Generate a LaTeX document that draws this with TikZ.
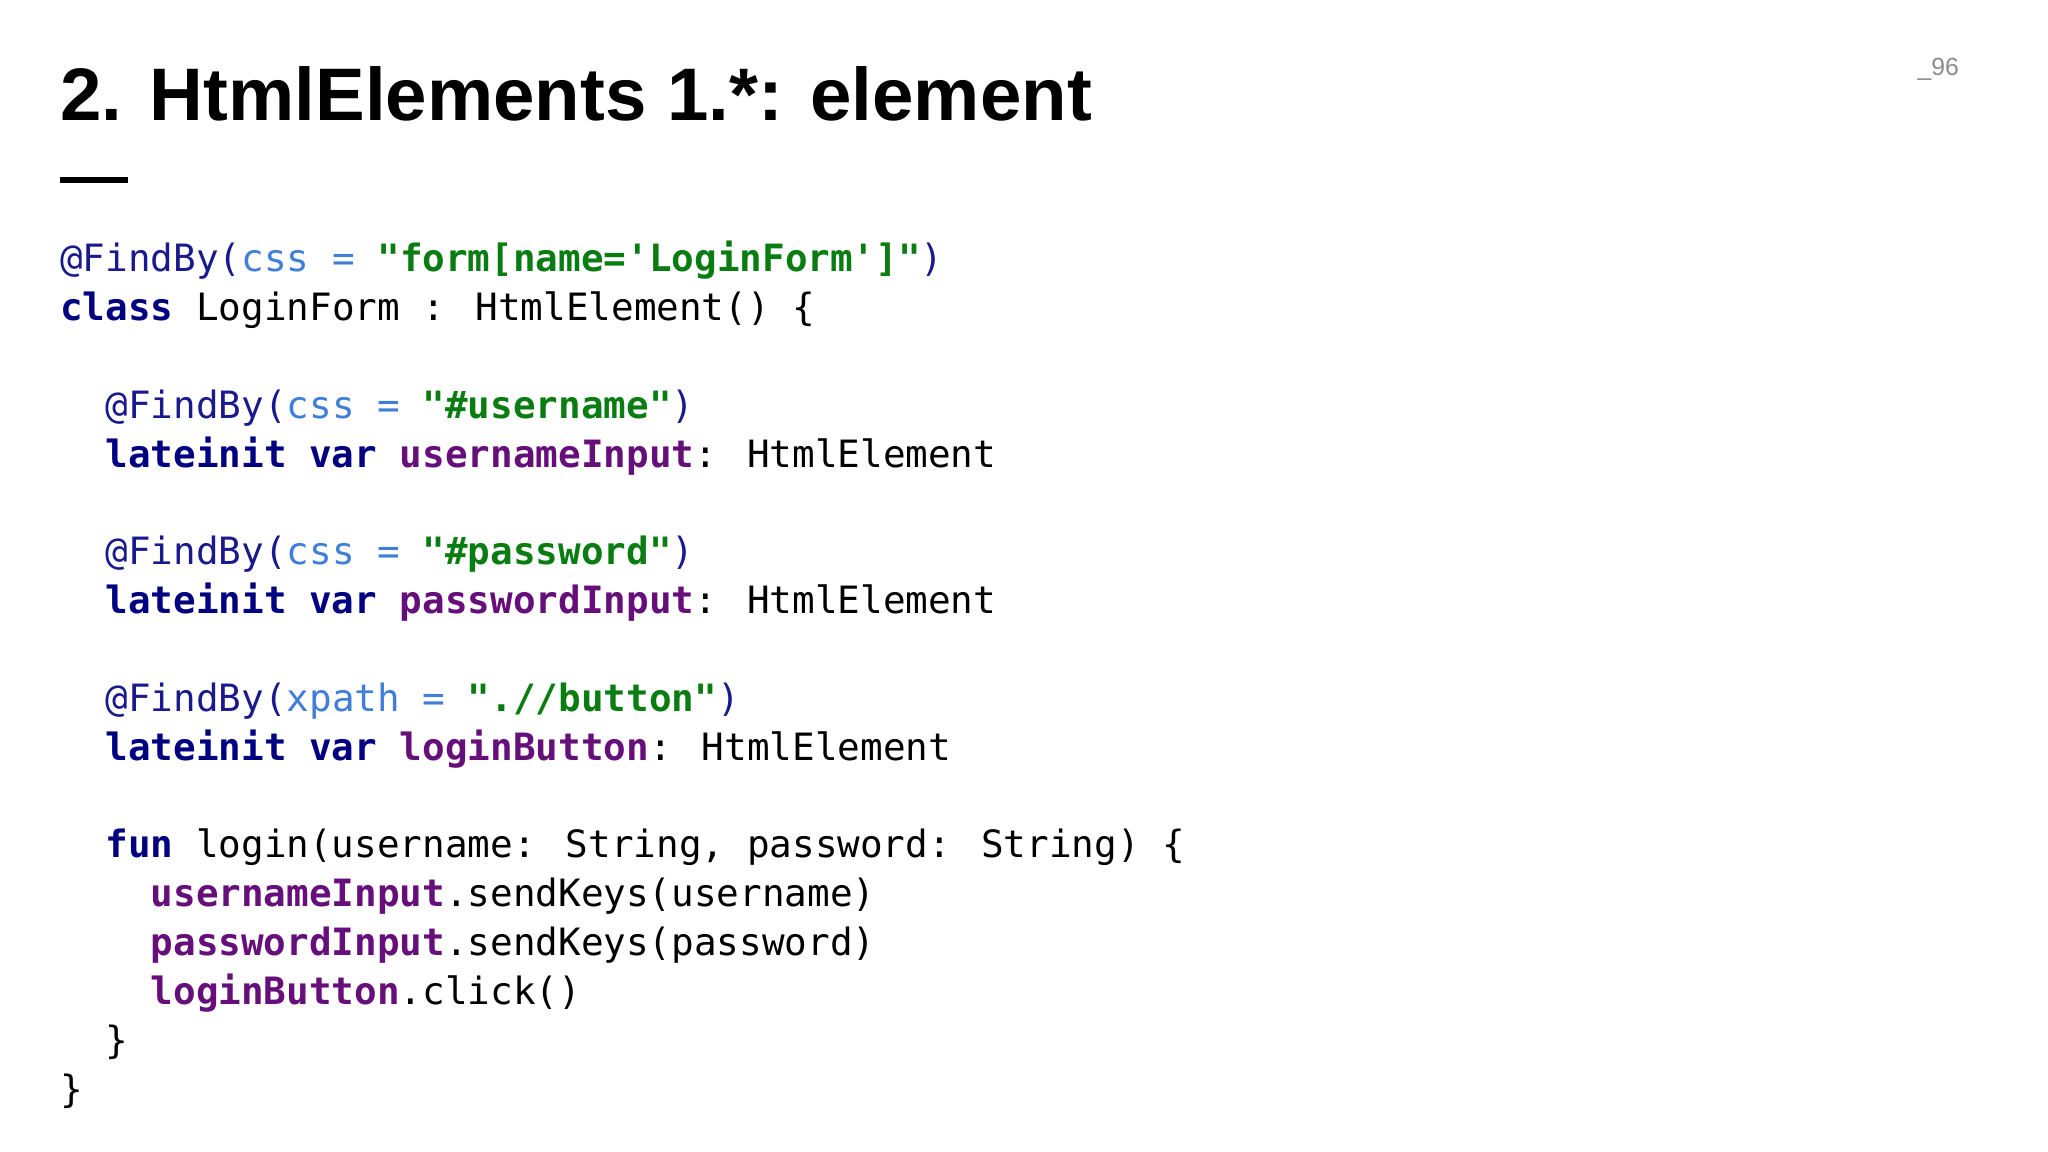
\documentclass[tikz,border=0pt]{standalone}
\usepackage{fontspec}
\setmainfont{Liberation Sans}
\newfontfamily\codef{DejaVu Sans Mono}
\definecolor{annc}{HTML}{1A1A8C}
\definecolor{attc}{HTML}{3F7FD9}
\definecolor{strc}{HTML}{0A7D12}
\definecolor{kwc}{HTML}{000080}
\definecolor{fdc}{HTML}{660E7A}
\newcommand\An[1]{\textcolor{annc}{#1}}
\newcommand\At[1]{\textcolor{attc}{#1}}
\newcommand\St[1]{\textcolor{strc}{\bfseries #1}}
\newcommand\Kw[1]{\textcolor{kwc}{\bfseries #1}}
\newcommand\Fd[1]{\textcolor{fdc}{\bfseries #1}}
\begin{document}
\begin{tikzpicture}[x=1pt,y=-1pt,
  codeline/.style={anchor=base west,inner sep=0pt,font=\codef\fontsize{28.8}{30}\selectfont}]
\useasboundingbox[fill=white] (0,0) rectangle (1568,882);
\node[anchor=base west,inner sep=0pt,font=\bfseries\fontsize{57}{60}\selectfont] (title) at (46,92) {2. HtmlElements 1.*: element};
\coordinate (d1) at (46,138); \coordinate (d2) at (98,138);
\draw[line width=4.5pt] (d1) -- (d2);
\node[anchor=base east,inner sep=0pt,text=black!45,font=\fontsize{19}{20}\selectfont] (pg) at (1500,58) {\_96};
\def\B#1{\numexpr 208+#1*374/10\relax}
\node[codeline] (l1) at (46,208) {\An{@FindBy(}\At{css =} \St{"form[name='LoginForm']"}\An{)}};
\node[codeline] (l2) at (46,245.4) {\Kw{class} LoginForm : HtmlElement() \{};
\node[codeline] (l4) at (80.6,320.2) {\An{@FindBy(}\At{css =} \St{"\#username"}\An{)}};
\node[codeline] (l5) at (80.6,357.6) {\Kw{lateinit var} \Fd{usernameInput}: HtmlElement};
\node[codeline] (l7) at (80.6,432.4) {\An{@FindBy(}\At{css =} \St{"\#password"}\An{)}};
\node[codeline] (l8) at (80.6,469.8) {\Kw{lateinit var} \Fd{passwordInput}: HtmlElement};
\node[codeline] (l10) at (80.6,544.6) {\An{@FindBy(}\At{xpath =} \St{".//button"}\An{)}};
\node[codeline] (l11) at (80.6,582) {\Kw{lateinit var} \Fd{loginButton}: HtmlElement};
\node[codeline] (l13) at (80.6,656.8) {\Kw{fun} login(username: String, password: String) \{};
\node[codeline] (l14) at (115.2,694.2) {\Fd{usernameInput}.sendKeys(username)};
\node[codeline] (l15) at (115.2,731.6) {\Fd{passwordInput}.sendKeys(password)};
\node[codeline] (l16) at (115.2,769) {\Fd{loginButton}.click()};
\node[codeline] (l17) at (80.6,806.4) {\}};
\node[codeline] (l18) at (46,843.8) {\}};
\end{tikzpicture}
\end{document}
